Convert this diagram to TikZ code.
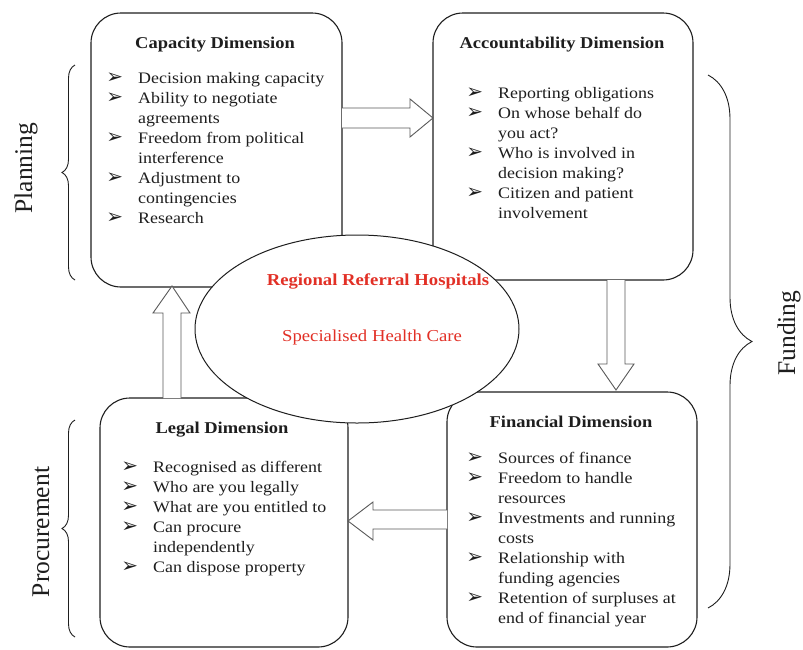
\documentclass[tikz,border=0pt]{standalone}
\usepackage{fontspec}
\setmainfont{Liberation Serif}[FakeStretch=1.12]
\newfontfamily\sidefont{Liberation Serif}
\newfontfamily\dingfont{DejaVu Sans}
\usetikzlibrary{decorations.pathreplacing,shapes.geometric}
\definecolor{hred}{RGB}{226,48,38}
\definecolor{ink}{RGB}{30,30,30}
\newcommand\bul{{\dingfont\fontsize{20}{20}\selectfont ➢}}
\newcommand\itm{\llap{\bul\hspace{15pt}}}
\begin{document}
\begin{tikzpicture}[x=1pt,y=-1pt,
  dimbox/.style={draw=ink, line width=1.1pt, rounded corners=30pt, fill=white, inner sep=0pt},
  hospell/.style={draw=ink, line width=1pt, ellipse, fill=white, inner sep=0pt},
  blockarrow/.style={draw=black!65, line width=0.9pt, fill=white, line join=miter},
  items/.style={anchor=north west, inner sep=0pt, align=left, text=ink, font=\fontsize{16}{20}\selectfont},
  ttl/.style={anchor=base, inner sep=0pt, text=ink, font=\fontsize{16.5}{20}\selectfont\bfseries},
  side/.style={inner sep=0pt, rotate=90, text=ink, font=\sidefont\fontsize{25.5}{30}\selectfont},
  bracestyle/.style={draw=ink, line width=0.9pt, decorate},
]
\useasboundingbox (0,0) rectangle (803,649);

% dimension boxes
\node[dimbox, minimum width=251pt, minimum height=274pt] (cap) at (216.5,150) {};
\node[dimbox, minimum width=260pt, minimum height=267pt] (acc) at (563,146.5) {};
\node[dimbox, minimum width=248pt, minimum height=249pt] (leg) at (224,522.5) {};
\node[dimbox, minimum width=250pt, minimum height=255pt] (fin) at (572,519.5) {};

% central ellipse
\node[hospell, minimum width=324pt, minimum height=188pt] (hosp) at (357,329) {};
\node[anchor=base, inner sep=0pt, text=hred, font=\fontsize{16.7}{20}\selectfont\bfseries] (hosp1) at (378,285) {Regional Referral Hospitals};
\node[anchor=base, inner sep=0pt, text=hred, font=\fontsize{16.7}{20}\selectfont] (hosp2) at (372,341) {Specialised Health Care};

% block arrows
\path[blockarrow] (342,108) -- (410,108) -- (410,99) -- (433,118) -- (410,137) -- (410,128) -- (342,128);
\path[blockarrow] (607,280) -- (607,364) -- (598,364) -- (616,390) -- (634,364) -- (625,364) -- (625,280);
\path[blockarrow] (447,510) -- (373,510) -- (373,502) -- (348,521) -- (373,540) -- (373,529) -- (447,529);
\path[blockarrow] (163,398) -- (163,313) -- (153,313) -- (172,286) -- (190,313) -- (181,313) -- (181,398);

% titles
\node[ttl] (capttl) at (215,48) {Capacity Dimension};
\node[ttl] (accttl) at (562,48) {Accountability Dimension};
\node[ttl] (legttl) at (222,433) {Legal Dimension};
\node[ttl] (finttl) at (571,427) {Financial Dimension};

% item lists
\node[items] (capitems) at (138,71) {\rule{0pt}{12pt}\itm Decision making capacity\\
\itm Ability to negotiate\\
agreements\\
\itm Freedom from political\\
interference\\
\itm Adjustment to\\
contingencies\\
\itm Research};

\node[items] (accitems) at (498,86) {\rule{0pt}{12pt}\itm Reporting obligations\\
\itm On whose behalf do\\
you act?\\
\itm Who is involved in\\
decision making?\\
\itm Citizen and patient\\
involvement};

\node[items] (legitems) at (153,460) {\rule{0pt}{12pt}\itm Recognised as different\\
\itm Who are you legally\\
\itm What are you entitled to\\
\itm Can procure\\
independently\\
\itm Can dispose property};

\node[items] (finitems) at (498,451) {\rule{0pt}{12pt}\itm Sources of finance\\
\itm Freedom to handle\\
resources\\
\itm Investments and running\\
costs\\
\itm Relationship with\\
funding agencies\\
\itm Retention of surpluses at\\
end of financial year};

% braces
\coordinate (plB) at (75,280); \coordinate (plT) at (75,65);
\coordinate (prB) at (75,637); \coordinate (prT) at (75,420);
\coordinate (fuT) at (708,75); \coordinate (fuB) at (708,608);
\draw[bracestyle, decoration={brace, amplitude=13pt}] (plB) -- (plT);
\draw[bracestyle, decoration={brace, amplitude=13pt}] (prB) -- (prT);
\draw[bracestyle, decoration={brace, amplitude=44pt}] (fuT) -- (fuB);

% side labels
\node[side] (planning) at (26,168) {Planning};
\node[side] (procurement) at (41,532) {Procurement};
\node[side] (funding) at (789,333) {Funding};
\end{tikzpicture}
\end{document}
